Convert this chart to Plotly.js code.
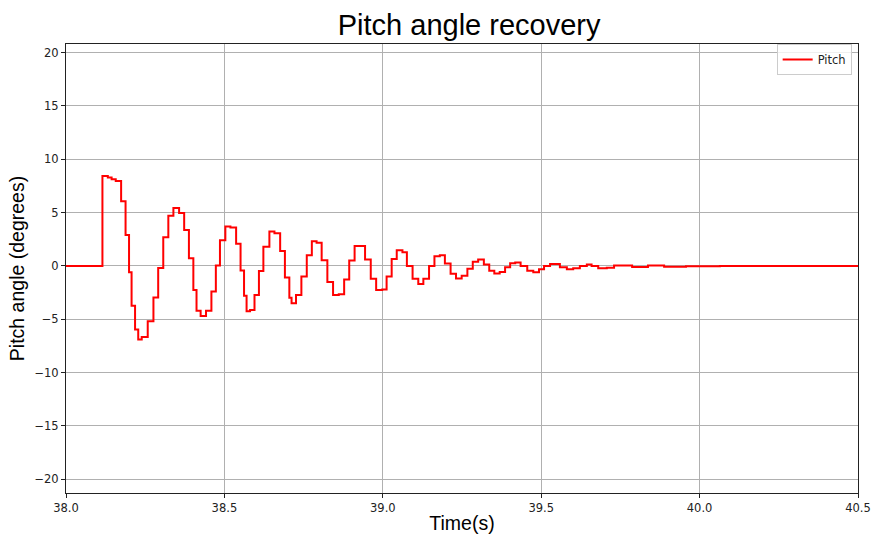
<!DOCTYPE html>
<html>
<head>
<meta charset="utf-8">
<script src="https://cdn.plot.ly/plotly-3.0.1.min.js"></script>
<style>html,body{margin:0;padding:0;background:#fff;}#chart{width:872px;height:534px;}</style>
</head>
<body>
<div id="chart"></div>
<script>
// Time stamps (s) at which each step of the pitch signal starts
const timeS = [
  38.000, 38.115, 38.132, 38.144, 38.157, 38.174, 38.188, 38.199, 38.207, 38.218,
  38.228, 38.239, 38.258, 38.276, 38.291, 38.307, 38.323, 38.339, 38.357, 38.373,
  38.388, 38.402, 38.412, 38.425, 38.442, 38.459, 38.473, 38.486, 38.503, 38.519,
  38.537, 38.551, 38.562, 38.570, 38.581, 38.595, 38.609, 38.623, 38.642, 38.658,
  38.676, 38.691, 38.705, 38.712, 38.726, 38.743, 38.760, 38.776, 38.791, 38.807,
  38.825, 38.843, 38.861, 38.878, 38.894, 38.911, 38.944, 38.962, 38.979, 38.998,
  39.012, 39.028, 39.044, 39.062, 39.076, 39.094, 39.112, 39.128, 39.146, 39.163,
  39.180, 39.196, 39.214, 39.231, 39.249, 39.267, 39.284, 39.301, 39.319, 39.336,
  39.352, 39.369, 39.386, 39.402, 39.418, 39.435, 39.456, 39.475, 39.493, 39.509,
  39.528, 39.559, 39.581, 39.601, 39.622, 39.644, 39.659, 39.680, 39.707, 39.730,
  39.787, 39.837, 39.888, 39.957, 40.064, 40.500
];
// Pitch angle (degrees) held from each time stamp
const pitchDeg = [
  0.00, 8.43, 8.28, 8.12, 7.97, 6.07, 2.90, -0.60, -3.72, -5.95,
  -6.90, -6.65, -5.18, -2.95, -0.20, 2.70, 4.70, 5.43, 4.97, 3.37,
  0.72, -2.25, -4.20, -4.70, -4.20, -2.40, 0.05, 2.40, 3.69, 3.60,
  2.07, -0.42, -2.80, -4.25, -4.12, -2.72, -0.47, 1.81, 3.22, 3.06,
  1.41, -1.09, -2.97, -3.50, -2.72, -1.00, 1.00, 2.32, 2.17, 0.53,
  -1.50, -2.72, -2.66, -1.28, 0.50, 1.88, 0.60, -1.20, -2.25, -2.20,
  -1.00, 0.64, 1.47, 1.28, 0.00, -1.20, -1.70, -1.20, 0.00, 0.90,
  1.00, 0.22, -0.74, -1.18, -0.92, -0.27, 0.40, 0.60, 0.14, -0.45,
  -0.72, -0.56, -0.12, 0.25, 0.32, 0.00, -0.44, -0.59, -0.31, 0.00,
  0.18, -0.12, -0.31, -0.22, 0.00, 0.14, 0.00, -0.22, -0.16, 0.03,
  -0.10, 0.03, -0.07, -0.03, 0.00, 0.00
];
const yTicks = [-20, -15, -10, -5, 0, 5, 10, 15, 20];
const xTicks = [38.0, 38.5, 39.0, 39.5, 40.0, 40.5];

const tickFont = {family: 'DejaVu Sans, sans-serif', size: 11.5, color: '#222'};
const labelFont = {family: 'Liberation Sans, Arial, sans-serif', size: 19.5, color: '#000'};

const trace = {
  x: timeS, y: pitchDeg, type: 'scatter', mode: 'lines', name: 'Pitch',
  line: {shape: 'hv', color: '#ff0000', width: 2}
};

const layout = {
  width: 872, height: 534,
  margin: {l: 66, r: 14, t: 44, b: 41, pad: 0},
  paper_bgcolor: '#fff', plot_bgcolor: '#fff',
  title: {
    text: 'Pitch angle recovery',
    font: {family: 'Liberation Sans, Arial, sans-serif', size: 29, color: '#000'},
    x: 0.538, xanchor: 'center', yref: 'container', y: 0.953, yanchor: 'middle'
  },
  xaxis: {
    range: [38.0, 40.5], tickvals: xTicks, ticktext: xTicks.map(v => v.toFixed(1)),
    showgrid: true, gridcolor: '#b0b0b0', gridwidth: 1,
    showline: true, linecolor: '#222', linewidth: 1, mirror: true,
    ticks: 'outside', ticklen: 4, tickcolor: '#222', tickfont: tickFont,
    zeroline: false,
    title: {text: 'Time(s)', font: labelFont, standoff: 4}
  },
  yaxis: {
    range: [-21.28, 20.8], tickvals: yTicks,
    showgrid: true, gridcolor: '#b0b0b0', gridwidth: 1,
    showline: true, linecolor: '#222', linewidth: 1, mirror: true,
    ticks: 'outside', ticklen: 4, tickcolor: '#222', tickfont: tickFont,
    zeroline: false,
    title: {text: 'Pitch angle (degrees)', font: labelFont, standoff: 4}
  },
  showlegend: true,
  legend: {
    x: 0.992, xanchor: 'right', y: 1.0, yanchor: 'top',
    bgcolor: 'rgba(255,255,255,0.8)', bordercolor: '#cccccc', borderwidth: 1,
    font: {family: 'DejaVu Sans, sans-serif', size: 11.5, color: '#222'},
    itemwidth: 30, tracegroupgap: 0
  }
};

Plotly.newPlot('chart', [trace], layout, {displayModeBar: false, staticPlot: true});
</script>
</body>
</html>
